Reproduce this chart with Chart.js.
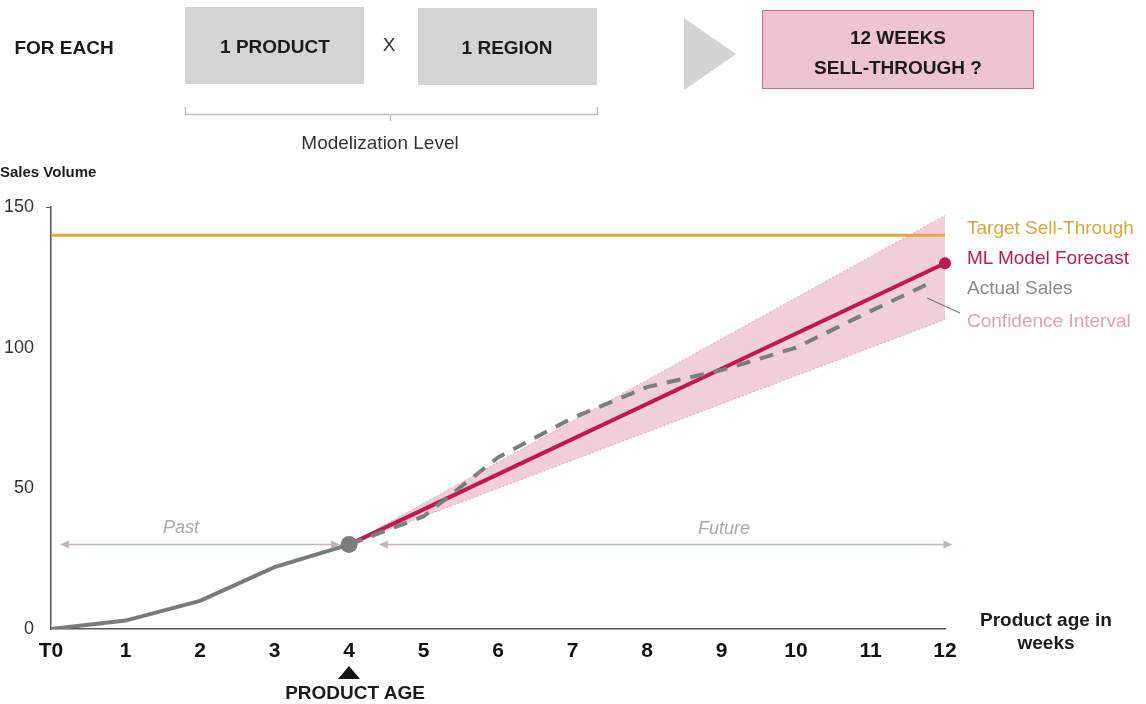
<!DOCTYPE html>
<html><head><meta charset="utf-8">
<script src="https://cdn.jsdelivr.net/npm/chart.js@4.4.1/dist/chart.umd.min.js"></script>
<style>
body{margin:0;background:#fff;}
#wrap{position:relative;width:1146px;height:704px;overflow:hidden;font-family:"Liberation Sans",Arial,Helvetica,sans-serif;}
#c{position:absolute;left:0;top:0;}
.t{position:absolute;white-space:nowrap;line-height:1;transform:translate(-50%,-50%);}
.l{position:absolute;white-space:nowrap;line-height:1;transform:translate(0,-50%);}
.b{font-weight:bold;color:#1b1b1b;}
.box{position:absolute;background:#d4d4d4;}
svg{position:absolute;left:0;top:0;}
</style></head><body>
<div id="wrap">
<canvas id="c" width="1146" height="704"></canvas>
<div class="box" style="left:185px;top:7px;width:179px;height:77px"></div>
<div class="box" style="left:418px;top:8px;width:179px;height:77px"></div>
<div style="position:absolute;left:762px;top:10px;width:270px;height:77px;background:#edc4d0;border:1px solid #d9638a"></div>
<svg width="1146" height="200">
  <polygon points="684,18 736,54 684,90" fill="#d3d3d3"/>
  <path d="M185.5,107 V114.5 H597.5 V107 M390.5,114.5 V121" fill="none" stroke="#c9b6bd" stroke-width="1.3"/>
</svg>
<div class="t b" style="left:64px;top:47px;font-size:19px">FOR EACH</div>
<div class="t b" style="left:275px;top:46px;font-size:19px">1 PRODUCT</div>
<div class="t" style="left:389px;top:44px;font-size:19px;color:#333">X</div>
<div class="t b" style="left:507px;top:47px;font-size:19px">1 REGION</div>
<div class="t b" style="left:898px;top:37px;font-size:19px">12 WEEKS</div>
<div class="t b" style="left:898px;top:67px;font-size:19px">SELL-THROUGH ?</div>
<div class="t" style="left:380px;top:142px;font-size:19px;color:#333">Modelization Level</div>
<div class="l b" style="left:0px;top:171px;font-size:15px">Sales Volume</div>
<div class="l" style="left:967px;top:227px;font-size:19px;color:#d9a836">Target Sell-Through</div>
<div class="l" style="left:967px;top:257px;font-size:19px;color:#bf1a50">ML Model Forecast</div>
<div class="l" style="left:967px;top:287px;font-size:19px;color:#8a8a8a">Actual Sales</div>
<div class="l" style="left:967px;top:320px;font-size:19px;color:#e79bb6">Confidence Interval</div>
<div class="t" style="left:181px;top:527px;font-size:18px;color:#a9a9a9;font-style:italic">Past</div>
<div class="t" style="left:724px;top:528px;font-size:18px;color:#a9a9a9;font-style:italic">Future</div>
<div class="t b" style="left:1046px;top:620px;font-size:19px;text-align:center;line-height:23px;transform:translate(-50%,-12px)">Product age in<br>weeks</div>
<div class="t b" style="left:355px;top:692px;font-size:19px">PRODUCT AGE</div>
</div>
<script>
// ---- data ----
const xTickLabels = ['T0','1','2','3','4','5','6','7','8','9','10','11','12'];
const yTickValues = [0,50,100,150];
const pastWeeks = [0,1,2,3,4];
const pastSales = [0,3,10,22,30];
const forecastWeeks = [4,12];
const forecastValues = [30,130];
const actualWeeks = [4,5,6,7,8,9,10,11,11.8];
const actualValues = [30,40,61,75,86,92,100,113,123];
const ciWeeks = [4,12];
const ciUpper = [30,147];
const ciLower = [30,110];
const targetWeeks = [0,12];
const targetValues = [140,140];
const productAgeWeek = [4];
const productAgeValue = [30];

const pts = (xs, ys) => xs.map((x,i)=>({x:x,y:ys[i]}));

const annot = {
  id:'annot',
  afterDatasetsDraw(chart){
    const {ctx, scales:{x,y}} = chart;
    ctx.save();
    const arrow = (x1,x2,yy) => {
      const X1=x.getPixelForValue(x1), X2=x.getPixelForValue(x2), Y=Math.round(y.getPixelForValue(yy))+0.5;
      ctx.strokeStyle='#c6b3ba'; ctx.fillStyle='#c6b3ba'; ctx.lineWidth=1.5;
      ctx.beginPath(); ctx.moveTo(X1+4,Y); ctx.lineTo(X2-4,Y); ctx.stroke();
      ctx.beginPath(); ctx.moveTo(X1,Y); ctx.lineTo(X1+9,Y-4); ctx.lineTo(X1+9,Y+4); ctx.closePath(); ctx.fill();
      ctx.beginPath(); ctx.moveTo(X2,Y); ctx.lineTo(X2-9,Y-4); ctx.lineTo(X2-9,Y+4); ctx.closePath(); ctx.fill();
    };
    arrow(0.12,3.88,30.3);
    arrow(4.4,12.1,30.3);
    // leader line for confidence interval label
    ctx.strokeStyle='#7a7a7a'; ctx.lineWidth=1.2;
    ctx.beginPath(); ctx.moveTo(927,298); ctx.lineTo(960,313); ctx.stroke();
    // product age marker
    const px = x.getPixelForValue(4);
    ctx.fillStyle='#111';
    ctx.beginPath(); ctx.moveTo(px,666); ctx.lineTo(px+11,679); ctx.lineTo(px-11,679); ctx.closePath(); ctx.fill();
    ctx.restore();
  }
};

new Chart(document.getElementById('c'), {
  type:'line',
  data:{datasets:[
    {data:pts(ciWeeks,ciLower), borderColor:'rgba(226,140,170,0.7)', borderWidth:1, borderDash:[2,2], pointRadius:0, fill:false, order:10},
    {data:pts(ciWeeks,ciUpper), borderColor:'rgba(226,140,170,0.7)', borderWidth:1, borderDash:[2,2], pointRadius:0, fill:0, backgroundColor:'rgba(205,95,135,0.3)', order:9},
    {data:pts(targetWeeks,targetValues), borderColor:'#dfab36', borderWidth:3, pointRadius:0, order:8},
    {data:pts(forecastWeeks,forecastValues), borderColor:'#c0184f', borderWidth:4, pointRadius:[0,6], pointBackgroundColor:'#c0184f', pointBorderWidth:0, clip:false, order:6},
    {data:pts(actualWeeks,actualValues), borderColor:'#7a7e7e', borderWidth:4, borderDash:[14,10], borderCapStyle:'butt', pointRadius:0, order:5},
    {data:pts(pastWeeks,pastSales), borderColor:'#777b7b', borderWidth:4, pointRadius:0, order:4},
    {data:pts(productAgeWeek,productAgeValue), showLine:false, pointRadius:8.5, pointBackgroundColor:'#7a7d7d', pointBorderWidth:0, order:3}
  ]},
  options:{
    responsive:false, animation:false, devicePixelRatio:1,
    layout:{padding:{left:0,top:207,right:201,bottom:0}},
    plugins:{legend:{display:false}, tooltip:{enabled:false}},
    elements:{line:{tension:0}},
    scales:{
      x:{type:'linear', min:0, max:12,
        afterFit:(s)=>{s.height=75;},
        afterBuildTicks:(s)=>{s.ticks = xTickLabels.map((_,i)=>({value:i}));},
        ticks:{callback:(v)=>xTickLabels[v], color:'#111', font:{family:'"Liberation Sans", Arial, sans-serif', size:21, weight:'bold'}, padding:10, maxRotation:0, autoSkip:false},
        grid:{drawOnChartArea:false, drawTicks:false},
        border:{display:true, color:'#555', width:1.5}
      },
      y:{type:'linear', min:0, max:150,
        afterFit:(s)=>{s.width=51;},
        afterBuildTicks:(s)=>{s.ticks = yTickValues.map(v=>({value:v}));},
        ticks:{color:'#333', font:{family:'"Liberation Sans", Arial, sans-serif', size:18}, padding:12},
        grid:{drawOnChartArea:false, drawTicks:true, tickLength:5, color:(c)=> (c.tick && c.tick.value===150) ? '#555' : 'rgba(0,0,0,0)'},
        border:{display:true, color:'#555', width:1.5}
      }
    }
  },
  plugins:[annot]
});
</script>
</body></html>
